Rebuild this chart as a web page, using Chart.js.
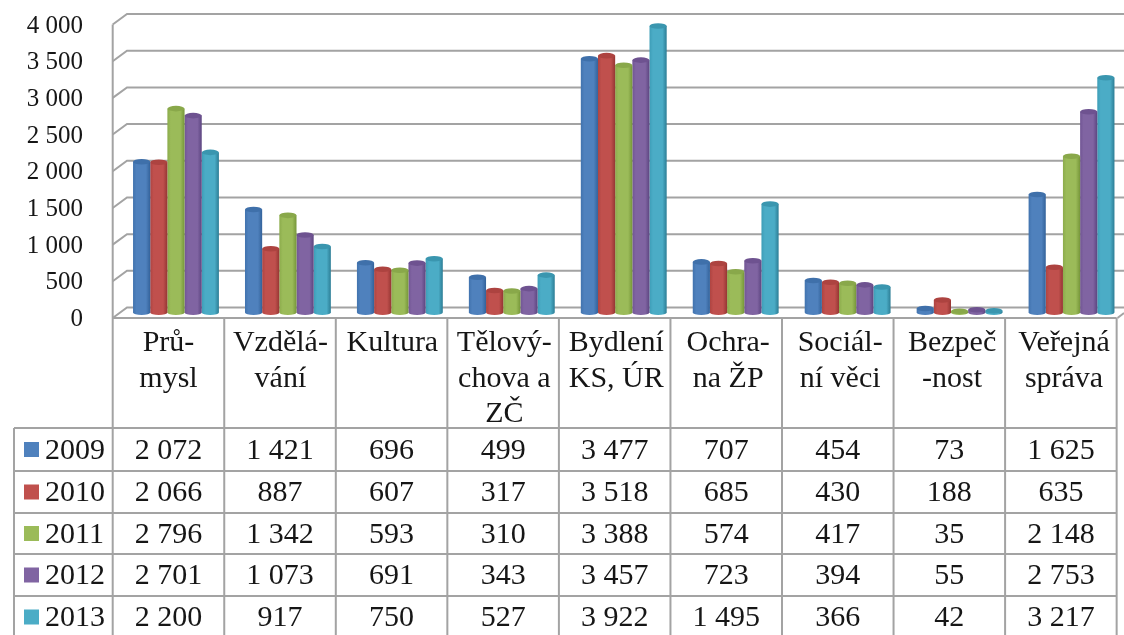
<!DOCTYPE html>
<html><head><meta charset="utf-8">
<style>html,body{margin:0;padding:0;background:#fff;overflow:hidden}#w{width:1124px;height:635px}</style>
<script src="https://cdn.jsdelivr.net/npm/chart.js@4"></script></head>
<body><div id="w"><canvas id="c" width="1124" height="635"></canvas></div>
<script>
const categories = [["Prů-","mysl"],["Vzdělá-","vání"],["Kultura"],["Tělový-","chova a","ZČ"],["Bydlení","KS, ÚR"],["Ochra-","na ŽP"],["Sociál-","ní věci"],["Bezpeč","-nost"],["Veřejná","správa"]];
const years = ["2009","2010","2011","2012","2013"];
const s2009 = [2072,1421,696,499,3477,707,454,73,1625];
const s2010 = [2066,887,607,317,3518,685,430,188,635];
const s2011 = [2796,1342,593,310,3388,574,417,35,2148];
const s2012 = [2701,1073,691,343,3457,723,394,55,2753];
const s2013 = [2200,917,750,527,3922,1495,366,42,3217];
const seriesValues = [s2009,s2010,s2011,s2012,s2013];
const colors = ["#4F81BD","#C0504D","#9BBB59","#8064A2","#4BACC6"];
const lefts  = ["#4173AE","#AE4441","#8CAC4C","#715594","#3D9DB7"];
const darks  = ["#33629A","#953633","#769639","#5C4580","#2C7D95"];
const capCols= ["#3F70AA","#AD4340","#89A84A","#6E5290","#3A96AF"];
const fmt = v => String(v).replace(/\B(?=(\d{3})+$)/g," ");
const FONT = "'Liberation Serif','Times New Roman',serif";
const INK = "#161616", LINE = "#a3a3a3";
const depthX = 7.5;
const rowLines = [428,471,513,554,596];
const FLOOR = 318, LEFT = 112.7, BACKX = 127, LEGX = 14, COLW = 111.55;

const stretchX = {
  id:"stretchX",
  afterLayout(chart){
    const s = chart.scales.x;
    s.right = 1127.5; s.width = s.right-s.left; s.configure();
  }
};

const cylinder = {
  id:"cylinder",
  beforeDatasetDraw(chart,args){
    const ctx = chart.ctx, i = args.index, meta = args.meta;
    meta.data.forEach(el=>{
      const w = el.width, x0 = el.x-w/2, x1 = el.x+w/2, rx = w/2, ry = 2.8;
      const yb = el.base-2.5, yt = Math.min(el.y-1.2, yb-0.5);
      const g = ctx.createLinearGradient(x0,0,x1,0);
      g.addColorStop(0,lefts[i]); g.addColorStop(0.2,colors[i]);
      g.addColorStop(0.75,colors[i]); g.addColorStop(1,darks[i]);
      ctx.save(); ctx.fillStyle = g;
      ctx.beginPath(); ctx.moveTo(x0,yt); ctx.lineTo(x0,yb);
      ctx.ellipse(el.x,yb,rx,ry-0.3,0,Math.PI,0,true);
      ctx.lineTo(x1,yt); ctx.closePath(); ctx.fill();
      ctx.fillStyle = capCols[i];
      ctx.beginPath(); ctx.ellipse(el.x,yt,rx,ry,0,0,Math.PI*2); ctx.fill();
      ctx.restore();
    });
    return false;
  }
};

const walls = {
  id:"walls",
  beforeDatasetsDraw(chart){
    const ctx = chart.ctx, y = chart.scales.y, w = chart.width;
    ctx.save(); ctx.strokeStyle = LINE; ctx.lineWidth = 2;
    y.ticks.forEach(t=>{
      const p = y.getPixelForValue(t.value);
      ctx.beginPath(); ctx.moveTo(LEFT,p+3); ctx.lineTo(BACKX,p-7.5); ctx.lineTo(w,p-7.5); ctx.stroke();
    });
    const top = y.getPixelForValue(4000);
    ctx.beginPath(); ctx.moveTo(LEFT,top+3); ctx.lineTo(LEFT,FLOOR); ctx.stroke();
    ctx.beginPath(); ctx.moveTo(1117.5,FLOOR); ctx.lineTo(1124,FLOOR-5); ctx.stroke();
    ctx.restore();
  }
};

const dataTable = {
  id:"dataTable",
  afterDraw(chart){
    const ctx = chart.ctx, h = chart.height;
    const edge = k => LEFT+k*COLW;
    const n = categories.length;
    ctx.save(); ctx.strokeStyle = LINE; ctx.lineWidth = 2;
    ctx.beginPath(); ctx.moveTo(LEFT,FLOOR); ctx.lineTo(edge(n),FLOOR);
    for(let k=0;k<=n;k++){ ctx.moveTo(edge(k),FLOOR); ctx.lineTo(edge(k),h); }
    rowLines.forEach(y=>{ ctx.moveTo(LEGX,y); ctx.lineTo(edge(n),y); });
    ctx.moveTo(LEGX,rowLines[0]); ctx.lineTo(LEGX,h);
    ctx.stroke();
    ctx.textBaseline = "middle"; ctx.font = "30px "+FONT;
    years.forEach((yr,r)=>{
      const top = rowLines[r], bot = rowLines[r+1]||638, cy = (top+bot)/2;
      ctx.fillStyle = colors[r]; ctx.fillRect(24,cy-7.5,15,15);
      ctx.fillStyle = INK; ctx.textAlign = "left"; ctx.fillText(yr,45,cy+1.5);
      ctx.textAlign = "center";
      seriesValues[r].forEach((v,k)=>ctx.fillText(fmt(v),(edge(k)+edge(k+1))/2,cy+1.5));
    });
    ctx.restore();
  }
};

new Chart(document.getElementById("c"),{
  type:"bar",
  data:{labels:categories,datasets:years.map((yr,i)=>({label:yr,data:seriesValues[i],backgroundColor:colors[i]}))},
  plugins:[stretchX,walls,cylinder,dataTable],
  options:{
    responsive:false,animation:false,
    layout:{padding:{top:21.5,right:0,bottom:0,left:0}},
    plugins:{legend:{display:false},title:{display:false},tooltip:{enabled:false}},
    datasets:{bar:{categoryPercentage:0.767,barPercentage:1}},
    scales:{
      y:{min:0,max:4000,
        grid:{display:false},border:{display:false},
        afterFit(s){s.width=120;s.paddingTop=0;s.paddingBottom=0;},
        ticks:{stepSize:500,autoSkip:false,padding:29,labelOffset:4.5,color:INK,font:{family:FONT,size:25},callback:v=>fmt(v)}},
      x:{grid:{display:false},border:{display:false},
        afterFit(s){s.height=320;s.paddingLeft=0;s.paddingRight=0;},
        ticks:{padding:3,labelOffset:-depthX,autoSkip:false,maxRotation:0,minRotation:0,color:INK,
          font:{family:FONT,size:30,lineHeight:1.17}}}
    }
  }
});
</script></body></html>
